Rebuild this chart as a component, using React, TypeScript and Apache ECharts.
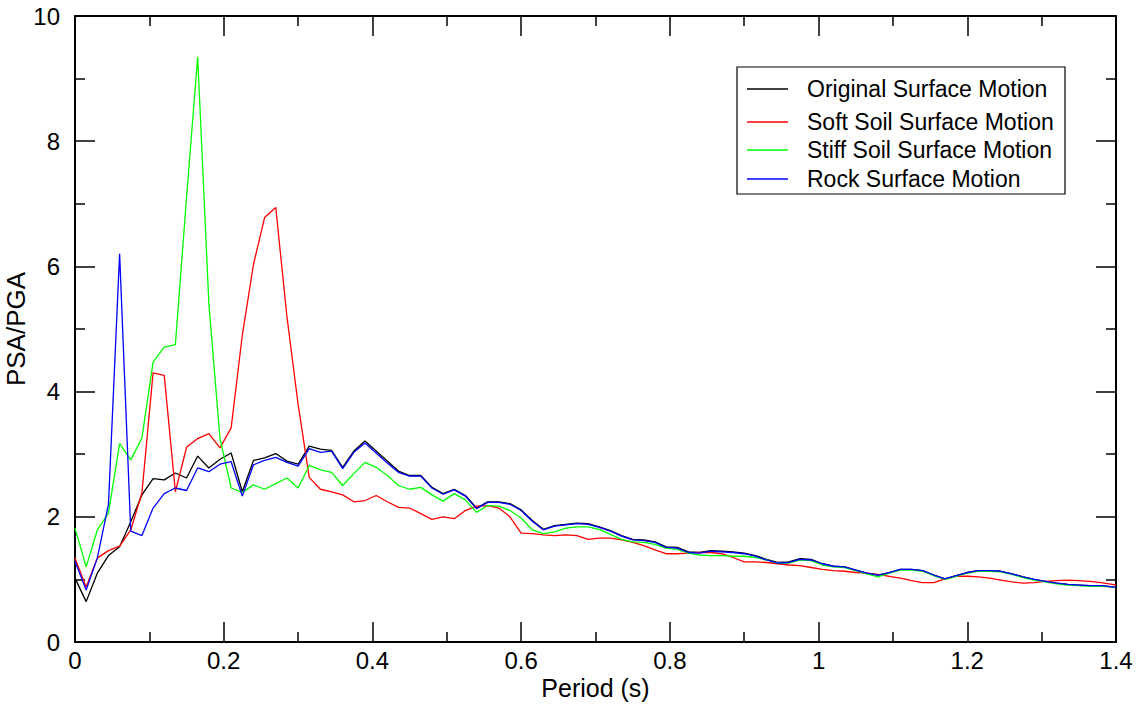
import React, { useEffect, useRef } from "react";
import * as echarts from "echarts";

// Periods (s) at which the response spectra were sampled
const periods = [
  0, 0.015, 0.03, 0.045, 0.06, 0.075, 0.09, 0.105, 0.12, 0.135, 0.15, 0.165, 0.18, 0.195, 0.21, 0.225, 0.24,
  0.255, 0.27, 0.285, 0.3, 0.315, 0.33, 0.345, 0.36, 0.375, 0.39, 0.405, 0.42, 0.435, 0.45, 0.465, 0.48, 0.495,
  0.51, 0.525, 0.54, 0.555, 0.57, 0.585, 0.6, 0.615, 0.63, 0.645, 0.66, 0.675, 0.69, 0.705, 0.72, 0.735, 0.75,
  0.765, 0.78, 0.795, 0.81, 0.825, 0.84, 0.855, 0.87, 0.885, 0.9, 0.915, 0.93, 0.945, 0.96, 0.975, 0.99, 1.005,
  1.02, 1.035, 1.05, 1.065, 1.08, 1.095, 1.11, 1.125, 1.14, 1.155, 1.17, 1.185, 1.2, 1.215, 1.23, 1.245, 1.26,
  1.275, 1.29, 1.305, 1.32, 1.335, 1.35, 1.365, 1.38, 1.395, 1.4,
];

// PSA/PGA ratios per motion
const originalMotion = [
  1.02, 0.645, 1.1, 1.38, 1.52, 1.92, 2.35, 2.61, 2.59, 2.7, 2.62, 2.97, 2.78, 2.92, 3.02, 2.4, 2.9,
  2.94, 3.01, 2.89, 2.84, 3.13, 3.08, 3.06, 2.79, 3.05, 3.21, 3.05, 2.89, 2.73, 2.66, 2.66, 2.47, 2.37,
  2.44, 2.34, 2.14, 2.24, 2.24, 2.21, 2.11, 1.94, 1.8, 1.86, 1.88, 1.9, 1.89, 1.84, 1.78, 1.7, 1.64,
  1.63, 1.6, 1.52, 1.51, 1.44, 1.43, 1.46, 1.45, 1.44, 1.42, 1.38, 1.32, 1.27, 1.28, 1.33, 1.32, 1.25,
  1.21, 1.2, 1.15, 1.1, 1.07, 1.11, 1.16, 1.16, 1.14, 1.07, 1.01, 1.06, 1.11, 1.14, 1.14, 1.13, 1.09,
  1.04, 1.0, 0.97, 0.94, 0.92, 0.91, 0.9, 0.9, 0.88, 0.87,
];

const softSoilMotion = [
  1.34, 0.88, 1.34, 1.46, 1.53, 1.79, 2.38, 4.3, 4.26, 2.4, 3.11, 3.25, 3.33, 3.1, 3.42, 4.9, 6.03,
  6.78, 6.94, 5.2, 3.8, 2.63, 2.44, 2.4, 2.35, 2.24, 2.26, 2.34, 2.24, 2.15, 2.14, 2.05, 1.96, 2.0,
  1.97, 2.1, 2.17, 2.18, 2.14, 2.0, 1.74, 1.73, 1.71, 1.7, 1.71, 1.7, 1.64, 1.66, 1.66, 1.63, 1.59,
  1.54, 1.47, 1.41, 1.41, 1.42, 1.43, 1.43, 1.41, 1.35, 1.28, 1.28, 1.27, 1.25, 1.23, 1.22, 1.19, 1.16,
  1.14, 1.13, 1.11, 1.1, 1.08, 1.05, 1.02, 0.98, 0.95, 0.95, 1.01, 1.05, 1.05, 1.04, 1.02, 0.99, 0.96,
  0.94, 0.95, 0.97, 0.98, 0.99, 0.98, 0.97, 0.95, 0.92, 0.91,
];

const stiffSoilMotion = [
  1.82, 1.2, 1.79, 2.06, 3.17, 2.91, 3.26, 4.47, 4.71, 4.75, 7.1, 9.35, 5.41, 3.25, 2.46, 2.39, 2.51,
  2.44, 2.53, 2.62, 2.46, 2.82, 2.75, 2.71, 2.5, 2.69, 2.87, 2.79, 2.66, 2.5, 2.44, 2.47, 2.35, 2.25,
  2.37, 2.27, 2.07, 2.18, 2.17, 2.1, 1.98, 1.79, 1.73, 1.76, 1.82, 1.84, 1.84, 1.8, 1.72, 1.64, 1.6,
  1.59, 1.56, 1.5, 1.48, 1.42, 1.39, 1.38, 1.38, 1.37, 1.37, 1.35, 1.31, 1.26, 1.26, 1.31, 1.3, 1.23,
  1.2, 1.19, 1.14, 1.09, 1.04, 1.1, 1.15, 1.15, 1.13, 1.06, 1.0, 1.05, 1.1, 1.13, 1.13, 1.12, 1.08,
  1.03, 0.99, 0.96, 0.93, 0.91, 0.9, 0.89, 0.89, 0.88, 0.87,
];

const rockMotion = [
  1.29, 0.83, 1.34, 2.2, 6.2, 1.77, 1.7, 2.14, 2.37, 2.46, 2.42, 2.78, 2.72, 2.84, 2.88, 2.33, 2.83,
  2.9, 2.95, 2.87, 2.81, 3.09, 3.03, 3.05, 2.77, 3.03, 3.18, 3.02, 2.86, 2.71, 2.65, 2.65, 2.46, 2.36,
  2.43, 2.33, 2.13, 2.23, 2.23, 2.2, 2.1, 1.93, 1.79, 1.85, 1.87, 1.89, 1.88, 1.83, 1.77, 1.69, 1.63,
  1.62, 1.59, 1.51, 1.5, 1.43, 1.42, 1.45, 1.44, 1.43, 1.41, 1.37, 1.31, 1.26, 1.27, 1.32, 1.31, 1.25,
  1.21, 1.2, 1.15, 1.1, 1.07, 1.11, 1.16, 1.16, 1.14, 1.07, 1.01, 1.06, 1.11, 1.14, 1.14, 1.13, 1.09,
  1.04, 1.0, 0.97, 0.94, 0.92, 0.91, 0.9, 0.9, 0.88, 0.87,
];

const seriesNames = [
  "Original Surface Motion",
  "Soft Soil Surface Motion",
  "Stiff Soil Surface Motion",
  "Rock Surface Motion",
];
const seriesColors = ["#000000", "#ff0000", "#00ff00", "#0000ff"];
const seriesValues = [originalMotion, softSoilMotion, stiffSoilMotion, rockMotion];

const FONT = "'Liberation Sans', Arial, Helvetica, sans-serif";

export default function App() {
  const ref = useRef<HTMLDivElement>(null);

  useEffect(() => {
    document.body.style.margin = "0";
    if (!ref.current) return;
    const chart = echarts.init(ref.current, undefined, { renderer: "svg" });

    const tickCommon = {
      axisLine: { show: true, onZero: false, lineStyle: { color: "#000", width: 2 } },
      axisTick: { show: true, inside: true, length: 20, lineStyle: { color: "#000", width: 1.5 } },
      minorTick: { show: true, splitNumber: 2, length: 10, lineStyle: { color: "#000", width: 1.5 } },
      splitLine: { show: false },
      minorSplitLine: { show: false },
    };

    // Legend box drawn as graphics
    const legendX = 737;
    const legendY = 67;
    const rowY = [22, 55, 83, 112];
    const legendGraphics: any[] = [
      {
        type: "rect",
        shape: { x: legendX, y: legendY, width: 328, height: 127 },
        style: { fill: "#fff", stroke: "#000", lineWidth: 1.2 },
        z: 100,
      },
    ];
    seriesNames.forEach((name, i) => {
      legendGraphics.push({
        type: "line",
        shape: { x1: legendX + 10, y1: legendY + rowY[i], x2: legendX + 51, y2: legendY + rowY[i] },
        style: { stroke: seriesColors[i], lineWidth: 1.3 },
        z: 101,
      });
      legendGraphics.push({
        type: "text",
        x: legendX + 70,
        y: legendY + rowY[i],
        style: {
          text: name,
          fill: "#000",
          font: `23px ${FONT}`,
          textVerticalAlign: "middle",
          verticalAlign: "middle",
        },
        z: 101,
      });
    });

    chart.setOption({
      animation: false,
      backgroundColor: "#fff",
      grid: {
        left: 75,
        right: 22,
        top: 16,
        bottom: 62,
        containLabel: false,
        outerBoundsMode: "none",
      },
      xAxis: [
        {
          type: "value",
          min: 0,
          max: 1.4,
          interval: 0.2,
          position: "bottom",
          name: "Period (s)",
          nameLocation: "middle",
          nameGap: 33,
          nameMoveOverlap: false,
          nameTextStyle: { fontFamily: FONT, fontSize: 25, color: "#000" },
          axisLabel: {
            fontFamily: FONT,
            fontSize: 24,
            color: "#000",
            margin: 6,
            formatter: (v: number) => String(+v.toFixed(1)),
          },
          ...tickCommon,
        },
        {
          type: "value",
          min: 0,
          max: 1.4,
          interval: 0.2,
          position: "top",
          axisLabel: { show: false },
          ...tickCommon,
        },
      ],
      yAxis: [
        {
          type: "value",
          min: 0,
          max: 10,
          interval: 2,
          position: "left",
          name: "PSA/PGA",
          nameLocation: "middle",
          nameGap: 46,
          nameMoveOverlap: false,
          nameTextStyle: { fontFamily: FONT, fontSize: 26, color: "#000" },
          axisLabel: { fontFamily: FONT, fontSize: 24, color: "#000", margin: 15 },
          ...tickCommon,
        },
        {
          type: "value",
          min: 0,
          max: 10,
          interval: 2,
          position: "right",
          axisLabel: { show: false },
          ...tickCommon,
        },
      ],
      series: seriesNames.map((name, i) => ({
        name,
        type: "line",
        xAxisIndex: 0,
        yAxisIndex: 0,
        showSymbol: false,
        symbol: "none",
        lineStyle: { color: seriesColors[i], width: 1.3 },
        data: periods.map((p, k) => [p, seriesValues[i][k]]),
      })),
      graphic: legendGraphics,
    });

    return () => chart.dispose();
  }, []);

  return <div ref={ref} style={{ width: 1138, height: 704 }} />;
}
